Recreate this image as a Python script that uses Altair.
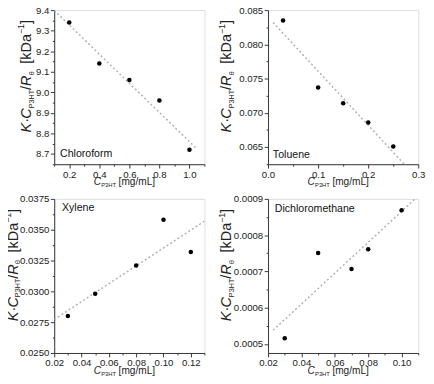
import altair as alt
import pandas as pd

# ---------------- data ----------------
chloro_x = [0.2, 0.4, 0.6, 0.8, 1.0]
chloro_y = [9.34, 9.14, 9.06, 8.96, 8.72]

toluene_x = [0.03, 0.10, 0.15, 0.20, 0.25]
toluene_y = [0.0835, 0.0737, 0.0714, 0.0686, 0.0651]

xylene_x = [0.03, 0.05, 0.08, 0.10, 0.12]
xylene_y = [0.0280, 0.0298, 0.0321, 0.0358, 0.0332]

dcm_x = [0.03, 0.05, 0.07, 0.08, 0.10]
dcm_y = [0.000516, 0.000751, 0.000707, 0.000761, 0.000869]

solvents = ["Chloroform", "Toluene", "Xylene", "Dichloromethane"]

# ---------------- style ----------------
FONT = "Liberation Sans"
AX = "#333333"
W, H = 156, 160
ONE = pd.DataFrame({"k": [0]})


def tick_values(lo, hi, step):
    n = int(round((hi - lo) / step))
    return [round(lo + i * step, 10) for i in range(n + 1)]


def major_test(step):
    return f"abs(datum.value/{step} - round(datum.value/{step})) < 0.001"


def make_axis(lo, hi, minor, major, fmt):
    test = major_test(major)
    return alt.Axis(
        values=tick_values(lo, hi, minor),
        labelExpr=f"{test} ? format(datum.value, '{fmt}') : ''",
        tickSize={"condition": {"test": test, "value": 4}, "value": 2},
        grid=False,
        title=None,
        domainColor=AX,
        tickColor=AX,
        labelColor="#222222",
        labelFont=FONT,
        labelFontSize=10,
        labelPadding=1.5,
        labelOverlap=False,
        labelFlush=False,
    )


def txt(text, x, y, size, style="normal", angle=0, color="#222222"):
    kw = dict(align="left", baseline="alphabetic", font=FONT, fontSize=size,
              fontStyle=style, color=color)
    if angle:
        kw["angle"] = angle
    return alt.Chart(ONE).mark_text(**kw).encode(
        x=alt.value(x), y=alt.value(y), text=alt.value(text))


def y_title(xb):
    # rotated title, reading bottom to top: K·C_P3HT/R_θ [kDa^-1]
    pieces = [
        ("K", 15, "italic", 0, 0.667),
        ("\u00b7", 15, "normal", 0, 0.278),
        ("C", 15, "italic", 0, 0.722),
        ("P3HT", 7.5, "normal", 2.5, 2.556),
        ("/", 15, "normal", 0, 0.278),
        ("R", 15, "italic", 0, 0.722),
        ("\u03b8", 8, "normal", 2.5, 0.9),
        ("[kDa", 15, "normal", 0, 2.056),
        ("\u22121", 9, "normal", -7, 1.14),
        ("]", 15, "normal", 0, 0.278),
    ]
    y = 127.0
    layers = []
    for t, s, st, dx, em in pieces:
        if t == "[kDa":
            y -= 5
        layers.append(txt(t, xb + dx, y, s, st, angle=270))
        y -= em * s
    return layers


def x_title():
    x0, yb = 41, H + 22
    return [
        txt("C", x0, yb, 10.5, "italic"),
        txt("P3HT", x0 + 7.8, yb + 2, 6),
        txt("[mg/mL]", x0 + 7.8 + 15.5 + 2.5, yb, 10.5),
    ]


def panel(xs, ys, name, xdom, xt0, xminor, xmajor, xfmt,
          ydom, yt0, yminor, ymajor, yfmt, ext, label_pos, ytitle_x):
    df = pd.DataFrame({"x": xs, "y": ys})
    base = alt.Chart(df).encode(
        x=alt.X("x:Q", scale=alt.Scale(domain=xdom, nice=False, zero=False),
                axis=make_axis(xt0, xdom[1], xminor, xmajor, xfmt)),
        y=alt.Y("y:Q", scale=alt.Scale(domain=ydom, nice=False, zero=False),
                axis=make_axis(yt0, ydom[1], yminor, ymajor, yfmt)),
    )
    fit = base.transform_regression("x", "y", extent=ext).mark_line(
        color="#b0b0b0", strokeDash=[2, 2.5], strokeWidth=1.5, clip=True)
    pts = base.mark_circle(size=22, color="black", opacity=1)
    lx, ly = label_pos
    lab = txt(name, lx, ly, 11, color="#111111")
    return alt.layer(fit, pts, lab, *y_title(ytitle_x), *x_title()).properties(
        width=W, height=H)


p1 = panel(chloro_x, chloro_y, solvents[0], [0.1, 1.1], 0.1, 0.1, 0.2, ".1f",
           [8.65, 9.4], 8.65, 0.05, 0.1, ".1f", [0.1, 1.05], (6, 153), -24)
p2 = panel(toluene_x, toluene_y, solvents[1], [0.0, 0.3], 0.0, 0.05, 0.1, ".1f",
           [0.0625, 0.085], 0.0625, 0.0025, 0.005, ".3f", [0.01, 0.28], (5, 154), -38)
p3 = panel(xylene_x, xylene_y, solvents[2], [0.02, 0.13], 0.02, 0.01, 0.02, ".2f",
           [0.025, 0.0375], 0.025, 0.00125, 0.0025, ".4f", [0.02, 0.13], (8, 13), -38)
p4 = panel(dcm_x, dcm_y, solvents[3], [0.02, 0.11], 0.02, 0.01, 0.02, ".2f",
           [0.000475, 0.0009], 0.0005, 0.00005, 0.0001, ".4f", [0.023, 0.11], (7, 14), -38)

chart = alt.concat(
    p1, p2, p3, p4, columns=2,
    spacing=alt.RowColnumber(row=36, column=66), bounds="flush"
).properties(
    padding={"left": -5, "top": -11, "right": 0, "bottom": 0}
).configure_view(stroke=AX, strokeWidth=1).configure(background="white")

chart.save("out.html", embed_options={"renderer": "svg", "actions": False})
